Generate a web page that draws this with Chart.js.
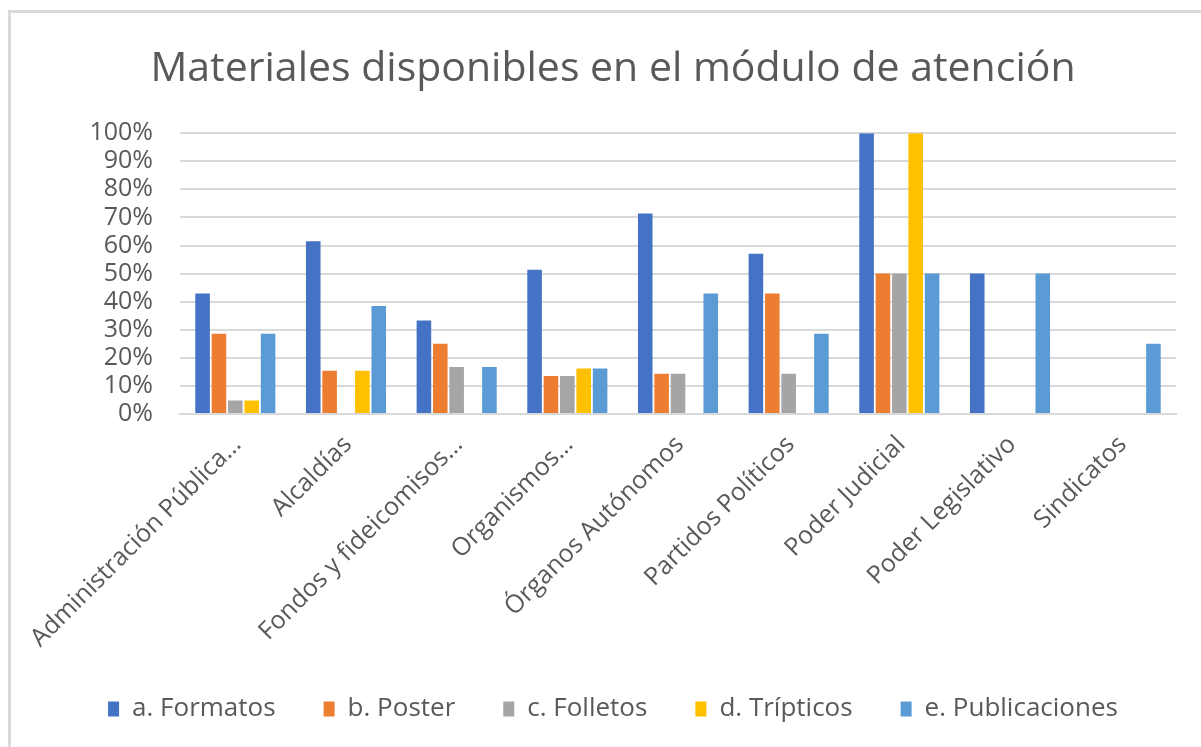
<!DOCTYPE html>
<html>
<head>
<meta charset="utf-8">
<script src="https://cdn.jsdelivr.net/npm/chart.js@4.4.1/dist/chart.umd.min.js"></script>
<style>
    body { margin: 0; background: #ffffff; }
    #wrap { position: relative; width: 1201px; height: 747px; }
    #frame {
        position: absolute; left: 8px; top: 10px; right: 0; bottom: 0;
        border-top: 3px solid #d9d9d9; border-left: 3px solid #d9d9d9;
        pointer-events: none;
    }
</style>
</head>
<body>
<div id="wrap">
    <canvas id="bar" width="1201" height="747"></canvas>
    <div id="frame"></div>
</div>
<script>
var bar = document.getElementById("bar");

var categorias = [
    "Administración Pública…",
    "Alcaldías",
    "Fondos y fideicomisos…",
    "Organismos…",
    "Órganos Autónomos",
    "Partidos Políticos",
    "Poder Judicial",
    "Poder Legislativo",
    "Sindicatos",
];

var formatos = [42.9, 61.5, 33.3, 51.4, 71.4, 57.1, 100, 50, 0];
var poster = [28.6, 15.4, 25.0, 13.5, 14.3, 42.9, 50, 0, 0];
var folletos = [4.8, 0, 16.7, 13.5, 14.3, 14.3, 50, 0, 0];
var tripticos = [4.8, 15.4, 0, 16.2, 0, 0, 100, 0, 0];
var publicaciones = [28.6, 38.5, 16.7, 16.2, 42.9, 28.6, 50, 50, 25];

var gris = "#595959";
var fuente = "'Open Sans', 'Noto Sans', sans-serif";

function serie(label, data, color) {
    return {
        label: label,
        data: data,
        backgroundColor: color,
        borderWidth: 0,
        categoryPercentage: 0.74,
        barPercentage: 0.89,
    };
}

new Chart(bar, {
    type: "bar",
    data: {
        labels: categorias,
        datasets: [
            serie("a. Formatos", formatos, "#4472C4"),
            serie("b. Poster", poster, "#ED7D31"),
            serie("c. Folletos", folletos, "#A5A5A5"),
            serie("d. Trípticos", tripticos, "#FFC000"),
            serie("e. Publicaciones", publicaciones, "#5B9BD5"),
        ],
    },
    options: {
        responsive: false,
        animation: false,
        layout: {
            padding: { top: 12, left: 50, right: 25, bottom: 15 },
        },
        scales: {
            x: {
                grid: { display: false },
                border: { display: true, color: "#d9d9d9", width: 2 },
                ticks: {
                    autoSkip: false,
                    minRotation: 45,
                    maxRotation: 45,
                    labelOffset: 2,
                    padding: 8,
                    color: gris,
                    font: { family: fuente, size: 25 },
                },
                afterFit: function (scale) {
                    scale.height = 234;
                },
            },
            y: {
                min: 0,
                max: 100,
                border: { display: false },
                grid: { color: "#d9d9d9", lineWidth: 2, drawTicks: false },
                ticks: {
                    autoSkip: false,
                    stepSize: 10,
                    padding: 27,
                    color: gris,
                    font: { family: fuente, size: 25, lineHeight: 1 },
                    callback: function (v) {
                        return v + "%";
                    },
                },
                afterFit: function (scale) {
                    scale.width = 130;
                },
            },
        },
        plugins: {
            title: {
                display: true,
                text: "Materiales disponibles en el módulo de atención",
                color: gris,
                font: { family: fuente, size: 41, weight: "normal" },
                padding: { top: 33, bottom: 39 },
            },
            legend: {
                position: "bottom",
                labels: {
                    color: gris,
                    font: { family: fuente, size: 26 },
                    boxWidth: 11,
                    boxHeight: 15,
                    padding: 48,
                },
            },
            tooltip: { enabled: false },
        },
    },
});
</script>
</body>
</html>
